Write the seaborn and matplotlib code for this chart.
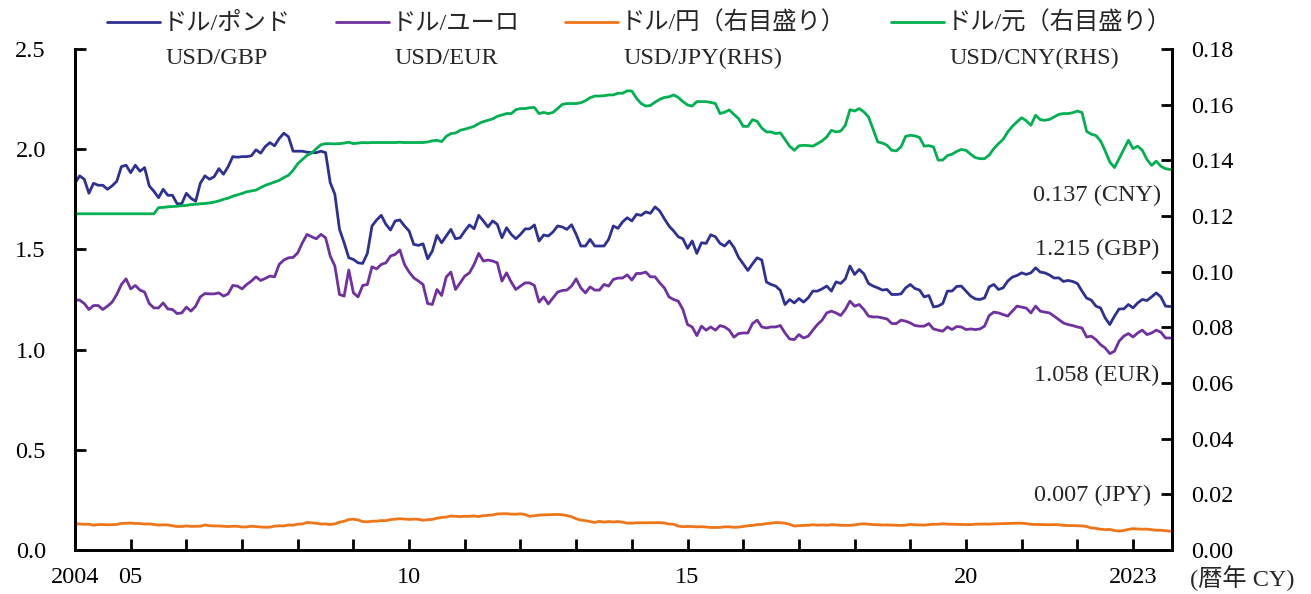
import numpy as np
import pandas as pd
import matplotlib
matplotlib.use('Agg')
import matplotlib.pyplot as plt
import seaborn as sns

sns.set_theme(style='ticks')
plt.rcParams['font.family'] = ['Liberation Serif', 'Noto Sans CJK JP']
plt.rcParams['axes.edgecolor'] = 'black'

# month-end rates, Jan 2004 - Sep 2023
gbp = [1.83, 1.867, 1.85, 1.78, 1.83, 1.82, 1.82, 1.80, 1.817, 1.84, 1.913, 1.92,
       1.883, 1.92, 1.89, 1.908, 1.817, 1.79, 1.758, 1.80, 1.77, 1.77, 1.728, 1.728,
       1.78, 1.755, 1.74, 1.83, 1.867, 1.85, 1.863, 1.903, 1.875, 1.913, 1.963, 1.96,
       1.963, 1.963, 1.967, 1.997, 1.98, 2.013, 2.033, 2.017, 2.053, 2.08, 2.062, 1.99,
       1.99, 1.99, 1.985, 1.983, 1.983, 1.99, 1.983, 1.833, 1.775, 1.60, 1.533, 1.458,
       1.45, 1.433, 1.43, 1.48, 1.617, 1.647, 1.67, 1.625, 1.597, 1.642, 1.647, 1.617,
       1.592, 1.525, 1.52, 1.528, 1.453, 1.492, 1.57, 1.533, 1.567, 1.60, 1.553, 1.558,
       1.592, 1.622, 1.603, 1.67, 1.642, 1.612, 1.642, 1.625, 1.558, 1.608, 1.575, 1.553,
       1.575, 1.602, 1.603, 1.622, 1.542, 1.572, 1.567, 1.587, 1.617, 1.612, 1.60, 1.623,
       1.575, 1.517, 1.517, 1.55, 1.517, 1.517, 1.517, 1.55, 1.617, 1.605, 1.637, 1.658,
       1.642, 1.675, 1.67, 1.687, 1.68, 1.712, 1.692, 1.653, 1.617, 1.592, 1.563, 1.553,
       1.505, 1.542, 1.48, 1.533, 1.53, 1.573, 1.563, 1.53, 1.517, 1.542, 1.51, 1.46,
       1.428, 1.395, 1.428, 1.458, 1.447, 1.337, 1.325, 1.317, 1.295, 1.225, 1.25, 1.233,
       1.255, 1.237, 1.258, 1.292, 1.292, 1.303, 1.317, 1.292, 1.338, 1.33, 1.353, 1.417,
       1.375, 1.40, 1.378, 1.33, 1.317, 1.308, 1.297, 1.30, 1.275, 1.275, 1.278, 1.308,
       1.325, 1.305, 1.297, 1.263, 1.27, 1.213, 1.217, 1.23, 1.292, 1.292, 1.315, 1.317,
       1.292, 1.267, 1.253, 1.25, 1.258, 1.313, 1.325, 1.30, 1.308, 1.342, 1.362, 1.37,
       1.383, 1.375, 1.383, 1.408, 1.387, 1.383, 1.372, 1.357, 1.358, 1.34, 1.345, 1.34,
       1.33, 1.292, 1.257, 1.247, 1.217, 1.208, 1.158, 1.125, 1.167, 1.203, 1.203, 1.225,
       1.208, 1.233, 1.25, 1.245, 1.263, 1.283, 1.263, 1.217, 1.215]

eur = [1.247, 1.247, 1.23, 1.20, 1.22, 1.22, 1.20, 1.217, 1.237, 1.275, 1.325, 1.353,
       1.303, 1.32, 1.297, 1.287, 1.23, 1.208, 1.208, 1.233, 1.203, 1.20, 1.18, 1.183,
       1.212, 1.192, 1.217, 1.263, 1.28, 1.278, 1.278, 1.283, 1.267, 1.278, 1.32, 1.317,
       1.303, 1.325, 1.342, 1.363, 1.345, 1.355, 1.367, 1.363, 1.425, 1.447, 1.458, 1.46,
       1.483, 1.533, 1.575, 1.563, 1.553, 1.575, 1.558, 1.467, 1.417, 1.275, 1.267, 1.397,
       1.283, 1.263, 1.32, 1.325, 1.413, 1.403, 1.425, 1.433, 1.467, 1.475, 1.497, 1.425,
       1.387, 1.358, 1.342, 1.325, 1.23, 1.225, 1.30, 1.27, 1.362, 1.387, 1.30, 1.333,
       1.367, 1.383, 1.425, 1.48, 1.442, 1.447, 1.442, 1.433, 1.342, 1.383, 1.337, 1.30,
       1.317, 1.333, 1.333, 1.32, 1.237, 1.263, 1.228, 1.258, 1.287, 1.295, 1.297, 1.317,
       1.353, 1.308, 1.283, 1.313, 1.297, 1.297, 1.325, 1.317, 1.35, 1.357, 1.357, 1.373,
       1.347, 1.38, 1.38, 1.387, 1.363, 1.363, 1.333, 1.308, 1.263, 1.25, 1.242, 1.20,
       1.125, 1.113, 1.07, 1.117, 1.097, 1.113, 1.097, 1.12, 1.113, 1.097, 1.062, 1.08,
       1.083, 1.083, 1.13, 1.147, 1.113, 1.108, 1.113, 1.113, 1.12, 1.083, 1.053, 1.05,
       1.075, 1.058, 1.067, 1.097, 1.125, 1.147, 1.183, 1.192, 1.183, 1.17, 1.20, 1.242,
       1.217, 1.225, 1.20, 1.167, 1.163, 1.163, 1.158, 1.153, 1.13, 1.13, 1.147, 1.142,
       1.133, 1.12, 1.117, 1.117, 1.13, 1.103, 1.097, 1.092, 1.113, 1.10, 1.115, 1.113,
       1.10, 1.103, 1.10, 1.103, 1.117, 1.17, 1.187, 1.183, 1.175, 1.167, 1.192, 1.217,
       1.212, 1.207, 1.183, 1.217, 1.192, 1.187, 1.183, 1.167, 1.15, 1.133, 1.125, 1.12,
       1.113, 1.108, 1.063, 1.067, 1.05, 1.025, 1.008, 0.98, 0.992, 1.042, 1.067, 1.08,
       1.063, 1.083, 1.097, 1.075, 1.083, 1.097, 1.087, 1.058, 1.058]

jpy = [0.00940, 0.00938, 0.00922, 0.00929, 0.00891, 0.00914, 0.00914, 0.00907, 0.00909, 0.00919, 0.00955, 0.00963,
       0.00968, 0.00953, 0.00950, 0.00933, 0.00938, 0.00919, 0.00894, 0.00904, 0.00899, 0.00870, 0.00844, 0.00844,
       0.00866, 0.00848, 0.00853, 0.00854, 0.00897, 0.00873, 0.00864, 0.00863, 0.00853, 0.00843, 0.00853, 0.00853,
       0.00829, 0.00830, 0.00853, 0.00842, 0.00828, 0.00816, 0.00822, 0.00857, 0.00870, 0.00864, 0.00899, 0.00890,
       0.00929, 0.00934, 0.00992, 0.00975, 0.00961, 0.00935, 0.00935, 0.00915, 0.00938, 0.00999, 0.01033, 0.01095,
       0.01107, 0.01081, 0.01022, 0.01011, 0.01035, 0.01035, 0.01058, 0.01054, 0.01094, 0.01107, 0.01122, 0.01112,
       0.01098, 0.01109, 0.01103, 0.01068, 0.01089, 0.01100, 0.01140, 0.01171, 0.01185, 0.01222, 0.01212, 0.01200,
       0.01211, 0.01211, 0.01224, 0.01202, 0.01233, 0.01244, 0.01259, 0.01297, 0.01302, 0.01304, 0.01290, 0.01285,
       0.01300, 0.01274, 0.01212, 0.01230, 0.01255, 0.01261, 0.01267, 0.01271, 0.01279, 0.01266, 0.01236, 0.01196,
       0.01122, 0.01074, 0.01055, 0.01022, 0.00990, 0.01029, 0.01003, 0.01022, 0.01008, 0.01022, 0.01000, 0.00966,
       0.00962, 0.00979, 0.00978, 0.00976, 0.00982, 0.00979, 0.00982, 0.00972, 0.00931, 0.00926, 0.00859, 0.00838,
       0.00846, 0.00843, 0.00831, 0.00837, 0.00828, 0.00808, 0.00811, 0.00812, 0.00833, 0.00833, 0.00816, 0.00822,
       0.00846, 0.00870, 0.00885, 0.00912, 0.00917, 0.00949, 0.00962, 0.00987, 0.00981, 0.00963, 0.00921, 0.00862,
       0.00872, 0.00885, 0.00886, 0.00909, 0.00891, 0.00902, 0.00890, 0.00911, 0.00901, 0.00886, 0.00887, 0.00886,
       0.00903, 0.00928, 0.00943, 0.00929, 0.00912, 0.00908, 0.00898, 0.00901, 0.00894, 0.00887, 0.00883, 0.00891,
       0.00918, 0.00906, 0.00899, 0.00896, 0.00911, 0.00926, 0.00924, 0.00942, 0.00930, 0.00925, 0.00918, 0.00917,
       0.00915, 0.00910, 0.00929, 0.00929, 0.00933, 0.00929, 0.00937, 0.00943, 0.00947, 0.00951, 0.00958, 0.00963,
       0.00963, 0.00949, 0.00920, 0.00917, 0.00917, 0.00908, 0.00907, 0.00911, 0.00907, 0.00884, 0.00877, 0.00878,
       0.00871, 0.00868, 0.00844, 0.00792, 0.00777, 0.00747, 0.00732, 0.00740, 0.00699, 0.00680, 0.00702, 0.00740,
       0.00767, 0.00754, 0.00747, 0.00750, 0.00730, 0.00709, 0.00710, 0.00691, 0.00676]

cny = [0.1208, 0.1208, 0.1208, 0.1208, 0.1208, 0.1208, 0.1208, 0.1208, 0.1208, 0.1208, 0.1208, 0.1208,
       0.1208, 0.1208, 0.1208, 0.1208, 0.1208, 0.1208, 0.1230, 0.1231, 0.1233, 0.1234, 0.1235, 0.1237,
       0.1238, 0.1241, 0.1242, 0.1244, 0.1245, 0.1247, 0.1250, 0.1254, 0.1260, 0.1264, 0.1271, 0.1276,
       0.1281, 0.1287, 0.1290, 0.1293, 0.1302, 0.1310, 0.1316, 0.1322, 0.1328, 0.1338, 0.1346, 0.1364,
       0.1388, 0.1403, 0.1418, 0.1426, 0.1442, 0.1456, 0.1460, 0.1460, 0.1459, 0.1460, 0.1462, 0.1465,
       0.1460, 0.1462, 0.1464, 0.1463, 0.1464, 0.1464, 0.1464, 0.1464, 0.1464, 0.1464, 0.1465, 0.1464,
       0.1464, 0.1464, 0.1464, 0.1464, 0.1466, 0.1470, 0.1472, 0.1467, 0.1486, 0.1496, 0.1498, 0.1508,
       0.1512, 0.1517, 0.1522, 0.1532, 0.1539, 0.1544, 0.1549, 0.1558, 0.1563, 0.1568, 0.1568, 0.1582,
       0.1586, 0.1586, 0.1589, 0.1590, 0.1568, 0.1572, 0.1568, 0.1572, 0.1586, 0.1601, 0.1604, 0.1604,
       0.1604, 0.1607, 0.1614, 0.1625, 0.1631, 0.1631, 0.1632, 0.1635, 0.1635, 0.1641, 0.1641, 0.1650,
       0.1649, 0.1623, 0.1604, 0.1595, 0.1597, 0.1609, 0.1619, 0.1626, 0.1628, 0.1635, 0.1626, 0.1611,
       0.1599, 0.1595, 0.1611, 0.1611, 0.1611, 0.1608, 0.1604, 0.1568, 0.1573, 0.1581, 0.1565, 0.1550,
       0.1522, 0.1522, 0.1546, 0.1540, 0.1516, 0.1502, 0.1502, 0.1496, 0.1499, 0.1475, 0.1451, 0.1436,
       0.1452, 0.1454, 0.1453, 0.1451, 0.1460, 0.1470, 0.1484, 0.1508, 0.1502, 0.1505, 0.1526, 0.1582,
       0.1577, 0.1586, 0.1574, 0.1556, 0.1511, 0.1466, 0.1462, 0.1454, 0.1436, 0.1434, 0.1448, 0.1486,
       0.1490, 0.1488, 0.1482, 0.1451, 0.1453, 0.1448, 0.1401, 0.1401, 0.1417, 0.1422, 0.1432, 0.1439,
       0.1436, 0.1422, 0.1410, 0.1406, 0.1406, 0.1419, 0.1442, 0.1460, 0.1475, 0.1502, 0.1522, 0.1538,
       0.1553, 0.1542, 0.1526, 0.1562, 0.1546, 0.1544, 0.1547, 0.1556, 0.1565, 0.1568, 0.1568, 0.1571,
       0.1577, 0.1572, 0.1504, 0.1494, 0.1489, 0.1470, 0.1434, 0.1394, 0.1374, 0.1406, 0.1439, 0.1472,
       0.1442, 0.1451, 0.1436, 0.1403, 0.1382, 0.1397, 0.1379, 0.1370, 0.1367]

labels_jp = ['ドル/ポンド', 'ドル/ユーロ', 'ドル/円（右目盛り）', 'ドル/元（右目盛り）']
labels_en = ['USD/GBP', 'USD/EUR', 'USD/JPY(RHS)', 'USD/CNY(RHS)']
codes = ['GBP', 'EUR', 'JPY', 'CNY']
colors = ['#2E3192', '#7030A0', '#EF7618', '#00B050']

xticks = list(range(2004, 2024))
xticklabels = ['2004', '05', '', '', '', '', '10', '', '', '', '', '15', '', '', '', '', '20', '', '', '2023']

df = pd.DataFrame({'gbp': gbp, 'eur': eur, 'jpy': jpy, 'cny': cny})
df['year'] = 2004 + np.arange(len(df)) / 12

W, H = 1311, 594
fig = plt.figure(figsize=(W / 100, H / 100), dpi=100)
ax = fig.add_axes([75 / W, 44 / H, 1097 / W, 501 / H])
ax2 = ax.twinx()

sns.lineplot(data=df, x='year', y='gbp', ax=ax, color=colors[0], linewidth=2, legend=False)
sns.lineplot(data=df, x='year', y='eur', ax=ax, color=colors[1], linewidth=2, legend=False)
sns.lineplot(data=df, x='year', y='jpy', ax=ax2, color=colors[2], linewidth=2, legend=False)
sns.lineplot(data=df, x='year', y='cny', ax=ax2, color=colors[3], linewidth=2, legend=False)

ax.set_xlim(2004, 2023.70)
ax.set_ylim(0, 2.5)
ax2.set_ylim(0, 0.18)
ax.set_xticks(xticks)
ax.set_xticklabels(xticklabels)
ax.set_yticks(np.arange(0, 2.51, 0.5))
ax.set_yticklabels(['{:.1f}'.format(v) for v in np.arange(0, 2.51, 0.5)])
ax2.set_yticks(np.arange(0, 0.181, 0.02))
ax2.set_yticklabels(['{:.2f}'.format(v) for v in np.arange(0, 0.181, 0.02)])
ax.set_xlabel('')
ax.set_ylabel('')
ax2.set_ylabel('')

fs = 17.5
ax.tick_params(axis='x', direction='in', length=8, width=2, pad=12, labelsize=fs, colors='black')
ax.tick_params(axis='y', direction='in', length=8, width=2, pad=21, labelsize=fs, colors='black')
ax2.tick_params(axis='y', direction='in', length=8, width=2, pad=14, labelsize=fs, colors='black')
for a in [ax, ax2]:
    a.spines['top'].set_visible(False)
    for s in ['left', 'right', 'bottom']:
        a.spines[s].set_linewidth(2)
        a.spines[s].set_color('black')

# end-of-period labels
last = [gbp[-1], eur[-1], jpy[-1], cny[-1]]
ax.text(2023.48, 1.50, '{:.3f} ({})'.format(last[0], codes[0]), ha='right', va='center', fontsize=fs)
ax.text(2023.48, 0.87, '{:.3f} ({})'.format(last[1], codes[1]), ha='right', va='center', fontsize=fs)
ax.text(2023.33, 0.27, '{:.3f} ({})'.format(last[2], codes[2]), ha='right', va='center', fontsize=fs)
ax.text(2023.51, 1.77, '{:.3f} ({})'.format(last[3], codes[3]), ha='right', va='center', fontsize=fs)

fig.text(1190 / W, 1 - 578 / H, '(暦年 CY)', ha='left', va='center', fontsize=fs)

handles = ax.get_lines()[:2] + ax2.get_lines()[:2]
leg = fig.legend(handles, labels_jp, ncol=4, loc='upper left', bbox_to_anchor=(107 / W, 0.98),
                 frameon=False, fontsize=fs, handlelength=2.2, handletextpad=0.1,
                 columnspacing=1.85, borderpad=0, borderaxespad=0)

fig.canvas.draw()
for t, en in zip(leg.get_texts(), labels_en):
    bb = t.get_window_extent()
    fig.text((bb.x0 + 3) / W, 1 - 58 / H, en, ha='left', va='center', fontsize=fs)

fig.savefig('out.png', dpi=100)
plt.close(fig)
